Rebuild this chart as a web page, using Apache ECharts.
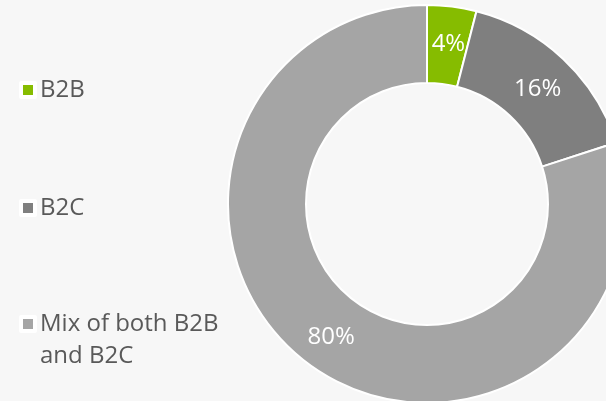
<!DOCTYPE html>
<html>
<head>
<meta charset="utf-8">
<script src="https://cdn.jsdelivr.net/npm/echarts@6/dist/echarts.min.js"></script>
<style>
html,body{margin:0;padding:0;background:#f7f7f7;}
#chart{width:606px;height:401px;}
</style>
</head>
<body>
<div id="chart"></div>
<script>
const categories = ['B2B', 'B2C', 'Mix of both B2B\nand B2C'];
const values = [4, 16, 80];
const colors = ['#86bc00', '#7f7f7f', '#a5a5a5'];

const chart = echarts.init(document.getElementById('chart'), null, {renderer: 'canvas'});
const font = '"Open Sans", sans-serif';
const labelOffsets = [[1, 2], [-1, 4], [0, 1]];
const legendBase = {
  orient: 'vertical',
  left: 19,
  padding: 0,
  itemWidth: 14,
  itemHeight: 14,
  itemGap: 0,
  icon: 'rect',
  itemStyle: {borderColor: '#ffffff', borderWidth: 4},
  textStyle: {fontFamily: font, fontSize: 24, color: '#595959', lineHeight: 32},
  // multi-line names: a leading blank line keeps the first text line level with the icon
  formatter: name => name.indexOf('\n') >= 0 ? ' \n' + name : name
};
const legendTops = [74, 192, 276];
const option = {
  backgroundColor: '#f7f7f7',
  color: colors,
  legend: categories.map((c, i) => Object.assign({}, legendBase, {
    top: legendTops[i],
    data: [c]
  })),
  series: [{
    type: 'pie',
    center: [427, 204],
    radius: [121, 199],
    startAngle: 90,
    clockwise: true,
    avoidLabelOverlap: false,
    itemStyle: {borderColor: '#ffffff', borderWidth: 2},
    label: {
      show: true,
      position: 'inside',
      formatter: '{c}%',
      color: '#ffffff',
      fontFamily: font,
      fontSize: 24
    },
    labelLine: {show: false},
    emphasis: {disabled: true},
    data: categories.map((c, i) => ({name: c, value: values[i], label: {offset: labelOffsets[i]}}))
  }]
};
chart.setOption(option);
</script>
</body>
</html>
